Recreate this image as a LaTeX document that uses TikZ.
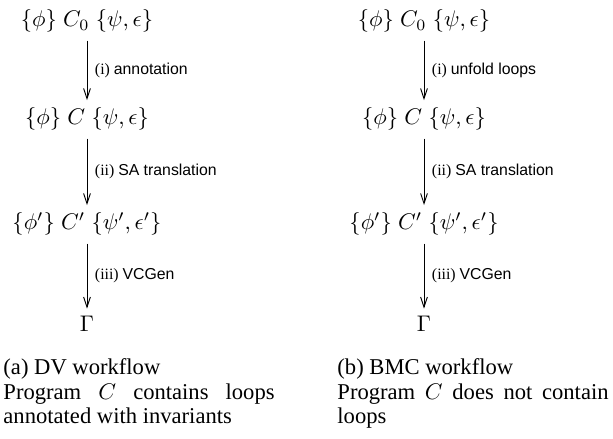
\documentclass[tikz,border=0pt]{standalone}
\usepackage[no-math]{fontspec}
\setmainfont{Liberation Serif}
\setsansfont{Liberation Sans}
\usetikzlibrary{arrows.meta}
\hyphenpenalty=10000
\begin{document}
\begin{tikzpicture}[x=0.4425pt,y=-0.4425pt,
        >={Straight Barb[length=4.5pt,width=3pt]},
        lbl/.style={right,font=\scriptsize},
        captext/.style={anchor=base west,inner sep=0pt,text width=120pt,align=justify,font=\fontsize{10}{10.84}\selectfont}]
        \useasboundingbox (0,0) rectangle (613,439);

        % DV workflow
        \node[anchor=base] (a0) at (87,27) {$\{\phi\}\;C_0\;\{\psi,\epsilon\}$};
        \node[anchor=base] (a1) at (87,125) {$\{\phi\}\;C\;\{\psi,\epsilon\}$};
        \node[anchor=base] (a2) at (87,230) {$\{\phi'\}\;C'\;\{\psi',\epsilon'\}$};
        \node[anchor=base] (a3) at (87,332) {$\Gamma$};

        \draw[->] (a0) -- node[lbl] {(i) \textsf{annotation}} (a1);
        \draw[->] (a1) -- node[lbl] {(ii) \textsf{SA translation}} (a2);
        \draw[->] (a2) -- node[lbl] {(iii) \textsf{VCGen}} (a3);

        % BMC workflow
        \node[anchor=base] (b0) at (424,27) {$\{\phi\}\;C_0\;\{\psi,\epsilon\}$};
        \node[anchor=base] (b1) at (424,125) {$\{\phi\}\;C\;\{\psi,\epsilon\}$};
        \node[anchor=base] (b2) at (424,230) {$\{\phi'\}\;C'\;\{\psi',\epsilon'\}$};
        \node[anchor=base] (b3) at (424,332) {$\Gamma$};

        \draw[->] (b0) -- node[lbl] {(i) \textsf{unfold loops}} (b1);
        \draw[->] (b1) -- node[lbl] {(ii) \textsf{SA translation}} (b2);
        \draw[->] (b2) -- node[lbl] {(iii) \textsf{VCGen}} (b3);

        % captions
        \node[captext] (capa) at (3,375) {(a) DV workflow\\ Program $C$ contains loops annotated with invariants};
        \node[captext] (capb) at (337,375) {(b) BMC workflow\\ Program $C$ does not contain loops};
\end{tikzpicture}
\end{document}
